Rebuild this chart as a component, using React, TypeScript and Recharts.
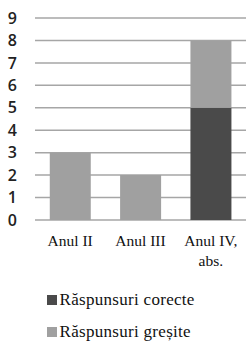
import { BarChart, Bar, XAxis, YAxis, CartesianGrid } from "recharts";

const categories = ["Anul II", "Anul III", "Anul IV, abs."];
const corecte = [0, 0, 5];
const gresite = [3, 2, 3];
const yTicks = [0, 1, 2, 3, 4, 5, 6, 7, 8, 9];
const seriesNames = ["Răspunsuri corecte", "Răspunsuri greșite"];

const data = categories.map((name, i) => ({ name, corecte: corecte[i], gresite: gresite[i] }));

const DARK = "#4a4a4a";
const LIGHT = "#a0a0a0";
const SERIF = "Liberation Serif";

function CategoryTick({ x, y, payload }: any) {
  const parts = String(payload.value).split(/(?<=,)\s/);
  return (
    <text x={x} y={y} textAnchor="middle" fontFamily={SERIF} fontSize={15.5} fill="#111">
      {parts.map((p, i) => (
        <tspan key={i} x={x} dy={i === 0 ? 18 : 20}>
          {p}
        </tspan>
      ))}
    </text>
  );
}

function LegendBox() {
  const colors = [DARK, LIGHT];
  return (
    <svg width={246} height={72} style={{ display: "block" }}>
      {seriesNames.map((label, i) => (
        <g key={label} transform={`translate(47, ${35 + i * 32})`}>
          <rect x={0} y={-10} width={10} height={10} fill={colors[i]} />
          <text x={12.5} y={0} fontFamily={SERIF} fontSize={17} letterSpacing={0.3} fill="#111">
            {label}
          </text>
        </g>
      ))}
    </svg>
  );
}

export default function App() {
  return (
    <div style={{ position: "absolute", left: 0, top: 0, width: 246, height: 342, background: "#fff" }}>
      <BarChart
        width={246}
        height={270}
        data={data}
        margin={{ top: 18, right: 0, left: 0, bottom: 0 }}
        barCategoryGap="21%"
      >
        <CartesianGrid vertical={false} stroke="#a6a6a6" strokeWidth={1.5} />
        <XAxis dataKey="name" axisLine={false} tickLine={false} height={50} tick={<CategoryTick />} interval={0} />
        <YAxis
          width={35}
          domain={[0, 9]}
          ticks={yTicks}
          interval={0}
          axisLine={false}
          tickLine={false}
          tickSize={0}
          tickMargin={18}
          tick={{ fill: "#222", fontSize: 16, fontFamily: "Open Sans", fontWeight: 600 }}
        />
        <Bar dataKey="corecte" name={seriesNames[0]} stackId="a" fill={DARK} isAnimationActive={false} />
        <Bar dataKey="gresite" name={seriesNames[1]} stackId="a" fill={LIGHT} isAnimationActive={false} />
      </BarChart>
      <LegendBox />
    </div>
  );
}
